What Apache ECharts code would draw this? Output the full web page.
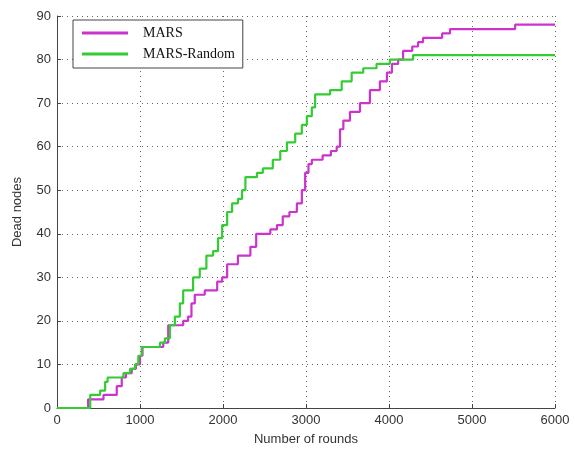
<!DOCTYPE html>
<html>
<head>
<meta charset="utf-8">
<script src="https://cdn.jsdelivr.net/npm/echarts@6/dist/echarts.min.js"></script>
<style>
  html, body { margin: 0; padding: 0; background: #fff; }
  #main { width: 575px; height: 451px; }
</style>
</head>
<body>
<div id="main"></div>
<script>
// series names
var seriesNames = ['MARS', 'MARS-Random'];

// step points: [round, dead nodes] where the count changes
var marsPoints = [
    [0, 0], [375, 2], [560, 3], [720, 5], [780, 7], [830, 8], [900, 9], [950, 10],
    [1000, 12], [1030, 14], [1280, 15], [1340, 19], [1520, 20], [1580, 21], [1620, 24],
    [1660, 26], [1780, 27], [1930, 29], [1990, 30], [2050, 33], [2180, 35], [2330, 37],
    [2400, 40], [2570, 41], [2650, 42], [2720, 44], [2800, 45], [2890, 47], [2950, 50],
    [2990, 54], [3030, 56], [3070, 57], [3200, 58], [3300, 59], [3370, 60], [3410, 64],
    [3450, 66], [3530, 68], [3650, 70], [3770, 73], [3890, 75], [3975, 77], [4035, 79],
    [4110, 80], [4170, 82], [4280, 83], [4350, 84], [4410, 85], [4640, 86], [4735, 87],
    [5520, 88], [6000, 88]
];
var randomPoints = [
    [0, 0], [400, 3], [520, 4], [580, 6], [610, 7], [800, 8], [880, 9], [940, 10],
    [980, 12], [1020, 14], [1240, 15], [1300, 16], [1360, 19], [1420, 21], [1480, 24],
    [1520, 27], [1640, 30], [1720, 32], [1800, 35], [1880, 36], [1940, 39], [1990, 42],
    [2050, 45], [2110, 47], [2180, 48], [2230, 50], [2270, 53], [2410, 54], [2480, 55],
    [2600, 57], [2690, 59], [2770, 61], [2870, 63], [2950, 65], [3010, 67], [3070, 69],
    [3110, 72], [3290, 73], [3430, 75], [3550, 77], [3690, 78], [3850, 79], [4010, 80],
    [4290, 81], [6000, 81]
];

var myChart = echarts.init(document.getElementById('main'));

var gridLine = {
    show: true,
    lineStyle: { color: '#666', width: 1, type: [1, 4] }
};

var option = {
    backgroundColor: '#fff',
    animation: false,
    grid: { left: 57, right: 20, top: 16, bottom: 43 },
    legend: {
        orient: 'vertical',
        left: 73,
        top: 20,
        padding: [6, 8, 7, 9],
        itemGap: 7,
        itemWidth: 46,
        itemHeight: 3,
        borderColor: '#444',
        borderWidth: 1,
        backgroundColor: '#fff',
        icon: 'rect',
        textStyle: { fontFamily: 'Liberation Serif', fontSize: 14, color: '#111', padding: [0, 0, 0, 10] },
        data: seriesNames
    },
    xAxis: {
        type: 'value',
        min: 0, max: 6000, interval: 1000,
        name: 'Number of rounds',
        nameLocation: 'middle',
        nameGap: 25,
        nameTextStyle: { fontFamily: 'Liberation Sans', fontSize: 13, color: '#333' },
        axisLine: { lineStyle: { color: '#444', width: 1 } },
        axisTick: { inside: true, length: 4, lineStyle: { color: '#444' } },
        axisLabel: {
            fontFamily: 'Liberation Sans', fontSize: 13, color: '#333', margin: 6,
            formatter: function (v) { return String(v); }
        },
        splitLine: gridLine
    },
    yAxis: {
        type: 'value',
        min: 0, max: 90, interval: 10,
        name: 'Dead nodes',
        nameLocation: 'middle',
        nameGap: 33,
        nameTextStyle: { fontFamily: 'Liberation Sans', fontSize: 13, color: '#333' },
        axisLine: { show: true, lineStyle: { color: '#444', width: 1 } },
        axisTick: { show: true, inside: true, length: 4, lineStyle: { color: '#444' } },
        axisLabel: { fontFamily: 'Liberation Sans', fontSize: 13, color: '#333', margin: 6 },
        splitLine: gridLine
    },
    series: [
        {
            name: seriesNames[0],
            type: 'line',
            step: 'end',
            showSymbol: false,
            color: '#cc33cc',
            lineStyle: { width: 2.2 },
            data: marsPoints,
            z: 3
        },
        {
            name: seriesNames[1],
            type: 'line',
            step: 'end',
            showSymbol: false,
            color: '#33cc33',
            lineStyle: { width: 2.2 },
            data: randomPoints,
            z: 4
        }
    ]
};

myChart.setOption(option);
</script>
</body>
</html>
